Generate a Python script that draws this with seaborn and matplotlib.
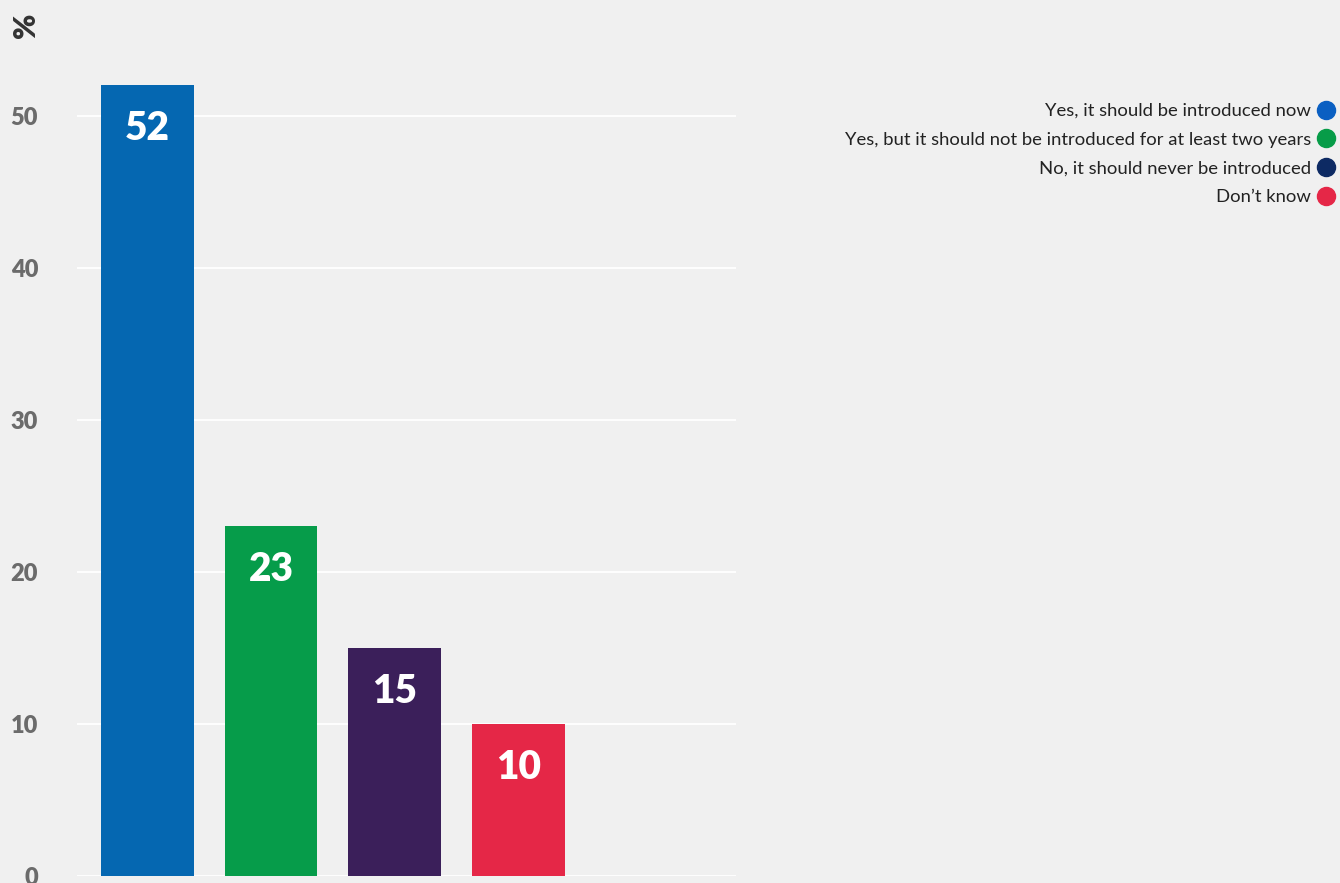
import matplotlib
matplotlib.use("Agg")
import matplotlib.pyplot as plt
from matplotlib.lines import Line2D
import seaborn as sns
import pandas as pd

categories = [
    "Yes, it should be introduced now",
    "Yes, but it should not be introduced for at least two years",
    "No, it should never be introduced",
    "Don\u2019t know",
]
values = [52, 23, 15, 10]
bar_colors = ["#0567b1", "#069c4a", "#3b1f5a", "#e52747"]
legend_colors = ["#0a5fc2", "#079c48", "#0d2a63", "#e52747"]
y_ticks = [0, 10, 20, 30, 40, 50]

BG = "#f0f0f0"
sns.set_theme(style="white")
plt.rcParams["font.family"] = ["Lato", "DejaVu Sans"]

fig = plt.figure(figsize=(13.4, 8.83), dpi=100, facecolor=BG)
ax = fig.add_axes([77 / 1340, 1 - 876 / 883, (736 - 77) / 1340, 876 / 883])
ax.set_facecolor(BG)

df = pd.DataFrame({"answer": categories, "pct": values})
sns.barplot(data=df, x="answer", y="pct", hue="answer", palette=bar_colors,
            order=categories, hue_order=categories, width=0.75,
            legend=False, ax=ax, saturation=1, linewidth=0, zorder=3)

ax.set_xlim(-0.57, 4.76)
ax.set_ylim(0, 57.6)
ax.set_yticks(y_ticks)
ax.set_yticklabels([str(t) for t in y_ticks], fontsize=17, fontweight="heavy",
                   color="#6b6b6b")
ax.tick_params(axis="y", length=0, pad=28)
ax.set_xticks([])
ax.set_xlabel("")
ax.set_ylabel("")
ax.grid(axis="y", color="white", linewidth=1.3, zorder=0)
for s in ax.spines.values():
    s.set_visible(False)

for i, v in enumerate(values):
    ax.text(i, v - 2.85, str(v), ha="center", va="center", color="white",
            fontsize=28, fontweight="heavy", zorder=4)

fig.text(26 / 1340, 1 - 25 / 883, "%", rotation=90, ha="center", va="center",
         fontsize=22, fontweight="heavy", color="#333333")

handles = [Line2D([], [], linestyle="none", marker="o", markersize=13,
                  markerfacecolor=c, markeredgecolor=c) for c in legend_colors]
fig.legend(handles, categories, loc="upper right", markerfirst=False,
           bbox_to_anchor=(1334 / 1340, 1 - 103 / 883), frameon=False,
           fontsize=13.3, labelcolor="#222222", handlelength=0.9,
           handletextpad=0.35, labelspacing=0.69, borderaxespad=0,
           borderpad=0)

fig.savefig("out.png", dpi=100, facecolor=BG)
